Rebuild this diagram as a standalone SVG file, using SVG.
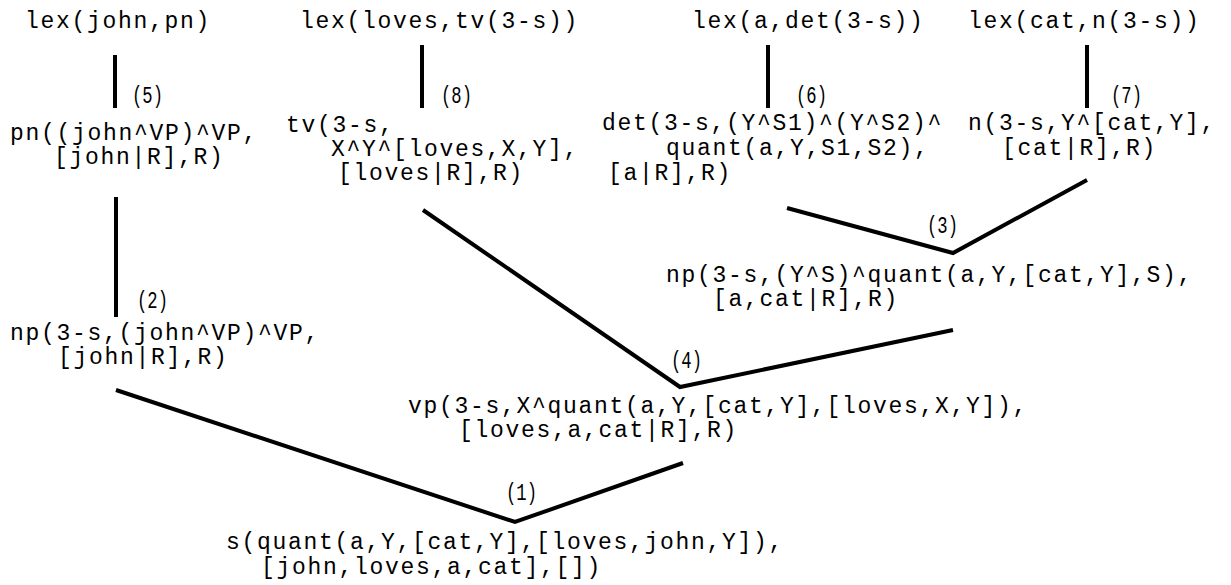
<svg xmlns="http://www.w3.org/2000/svg" width="1231" height="585" viewBox="0 0 1231 585">
<style>
.t{font-family:"Liberation Mono","Courier New",monospace;font-size:23px;letter-spacing:1.7px;fill:#000}
.l{font-family:"Liberation Mono","Courier New",monospace;font-size:24px;fill:#000}
.c{fill:none;stroke:#000;stroke-width:4;stroke-linejoin:miter;stroke-linecap:butt}
</style>
<rect width="1231" height="585" fill="#fff"/>
<g id="connectors">
<line class="c" x1="115" y1="55" x2="115" y2="108"/>
<line class="c" x1="422" y1="45" x2="422" y2="108"/>
<line class="c" x1="768" y1="45" x2="768" y2="108"/>
<line class="c" x1="1087" y1="45" x2="1087" y2="108"/>
<line class="c" x1="116" y1="197" x2="116" y2="317"/>
<polyline class="c" points="787,208 953,253 1087,180"/>
<polyline class="c" points="423,210 680,387 953,330"/>
<polyline class="c" points="116,390 515,522 683,463"/>
<text class="l" x="132" y="103" textLength="31" lengthAdjust="spacingAndGlyphs">(5)</text>
<text class="l" x="441" y="103" textLength="31" lengthAdjust="spacingAndGlyphs">(8)</text>
<text class="l" x="796" y="103" textLength="31" lengthAdjust="spacingAndGlyphs">(6)</text>
<text class="l" x="1111" y="103" textLength="31" lengthAdjust="spacingAndGlyphs">(7)</text>
<text class="l" x="927" y="233" textLength="31" lengthAdjust="spacingAndGlyphs">(3)</text>
<text class="l" x="671" y="368" textLength="31" lengthAdjust="spacingAndGlyphs">(4)</text>
<text class="l" x="137" y="308" textLength="31" lengthAdjust="spacingAndGlyphs">(2)</text>
<text class="l" x="506" y="500" textLength="31" lengthAdjust="spacingAndGlyphs">(1)</text>
</g>
<g id="lex-john"><text class="t" x="25" y="28">lex(john,pn)</text></g>
<g id="lex-loves"><text class="t" x="300" y="28">lex(loves,tv(3-s))</text></g>
<g id="lex-a"><text class="t" x="692" y="28">lex(a,det(3-s))</text></g>
<g id="lex-cat"><text class="t" x="968" y="28">lex(cat,n(3-s))</text></g>
<g id="pn"><text class="t" x="10" y="140">pn((john^VP)^VP,</text><text class="t" x="54" y="164">[john|R],R)</text></g>
<g id="tv"><text class="t" x="286" y="132">tv(3-s,</text><text class="t" x="331" y="156">X^Y^[loves,X,Y],</text><text class="t" x="338" y="180">[loves|R],R)</text></g>
<g id="det"><text class="t" x="602" y="130">det(3-s,(Y^S1)^(Y^S2)^</text><text class="t" x="666" y="155">quant(a,Y,S1,S2),</text><text class="t" x="608" y="180">[a|R],R)</text></g>
<g id="n"><text class="t" x="968" y="130">n(3-s,Y^[cat,Y],</text><text class="t" x="1002" y="155">[cat|R],R)</text></g>
<g id="np-right"><text class="t" x="666" y="282">np(3-s,(Y^S)^quant(a,Y,[cat,Y],S),</text><text class="t" x="713" y="306">[a,cat|R],R)</text></g>
<g id="np-left"><text class="t" x="10" y="340">np(3-s,(john^VP)^VP,</text><text class="t" x="58" y="364">[john|R],R)</text></g>
<g id="vp"><text class="t" x="408" y="413">vp(3-s,X^quant(a,Y,[cat,Y],[loves,X,Y]),</text><text class="t" x="459" y="437">[loves,a,cat|R],R)</text></g>
<g id="s"><text class="t" x="226" y="549">s(quant(a,Y,[cat,Y],[loves,john,Y]),</text><text class="t" x="261" y="574">[john,loves,a,cat],[])</text></g>
</svg>
